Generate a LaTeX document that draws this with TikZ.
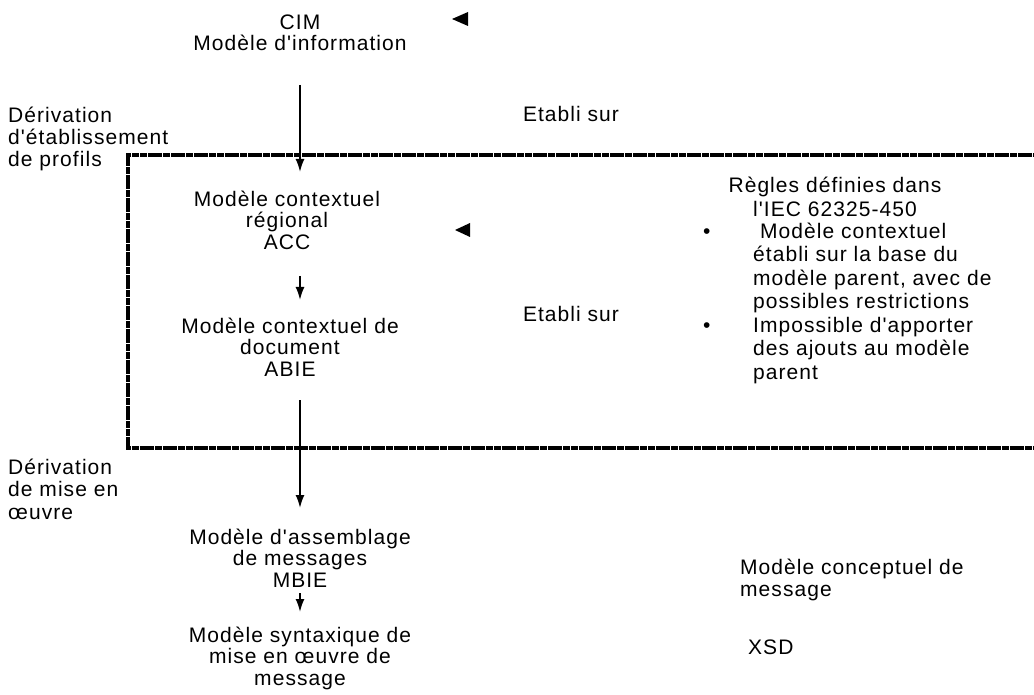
\documentclass[tikz,border=0pt]{standalone}
\usepackage{fontspec}
\newfontfamily\lbl[LetterSpace=5]{Liberation Sans}
\usetikzlibrary{arrows.meta}
\begin{document}
\begin{tikzpicture}[x=1pt,y=-1pt,
  txt/.style={font=\lbl\fontsize{21}{21.5}\selectfont, align=center, inner sep=0pt},
  txtl/.style={txt, align=left},
  txtr/.style={font=\lbl\fontsize{21}{23.5}\selectfont, align=left, inner sep=0pt},
  arr/.style={line width=1.8pt, -{Latex[length=13pt,width=9pt]}},
  frame/.style={line width=3.5pt, dash pattern=on 7pt off 0.7pt},
  tri/.style={fill=black}]
\useasboundingbox (0,0) rectangle (1034,695);
% frame
\draw[frame] (1040,155) -- (128,155) -- (128,448) -- (1040,448);
% nodes
\node[txt] (cim) at (300,33) {CIM\\Modèle d'information};
\node[txtl, anchor=west, font=\lbl\fontsize{21}{22}\selectfont] (der1) at (8,139) {Dérivation\\d'établissement\\de profils};
\node[txt] (etab1) at (571,114) {Etabli sur};
\node[txt] (acc) at (287,220) {Modèle contextuel\\régional\\ACC};
\node[txt] (abie) at (290,347) {Modèle contextuel de\\document\\ABIE};
\node[txt] (etab2) at (571,314) {Etabli sur};
\node[txtr, align=center] (rhead) at (835,197) {Règles définies dans\\l'IEC 62325-450};
\node[txtr, anchor=west] (rules) at (703,303) {%
\makebox[50pt][l]{•}\hspace*{7pt}Modèle contextuel\\
\hspace*{50pt}établi sur la base du\\
\hspace*{50pt}modèle parent, avec de\\
\hspace*{50pt}possibles restrictions\\
\makebox[50pt][l]{•}Impossible d'apporter\\
\hspace*{50pt}des ajouts au modèle\\
\hspace*{50pt}parent};
\node[txtl, anchor=west, font=\lbl\fontsize{21}{22.5}\selectfont] (der2) at (8,489) {Dérivation\\de mise en\\œuvre};
\node[txt] (mbie) at (300,558) {Modèle d'assemblage\\de messages\\MBIE};
\node[txt] (syn) at (300,658) {Modèle syntaxique de\\mise en œuvre de\\message};
\node[txtl, anchor=west] (concept) at (740,580) {Modèle conceptuel de\\message};
\node[txtl, anchor=west] (xsd) at (748,647) {XSD};
% triangles
\fill[tri] (452,19) -- (468,12) -- (468,26) -- cycle;
\fill[tri] (455,230) -- (470,223) -- (470,237) -- cycle;
% arrows
\coordinate (a1s) at (300,85);  \coordinate (a1e) at (300,172);
\coordinate (a2s) at (300,276); \coordinate (a2e) at (300,300);
\coordinate (a3s) at (300,400); \coordinate (a3e) at (300,508);
\coordinate (a4s) at (300,593); \coordinate (a4e) at (300,612);
\draw[arr] (a1s) -- (a1e);
\draw[arr] (a2s) -- (a2e);
\draw[arr] (a3s) -- (a3e);
\draw[arr] (a4s) -- (a4e);
\end{tikzpicture}
\end{document}
